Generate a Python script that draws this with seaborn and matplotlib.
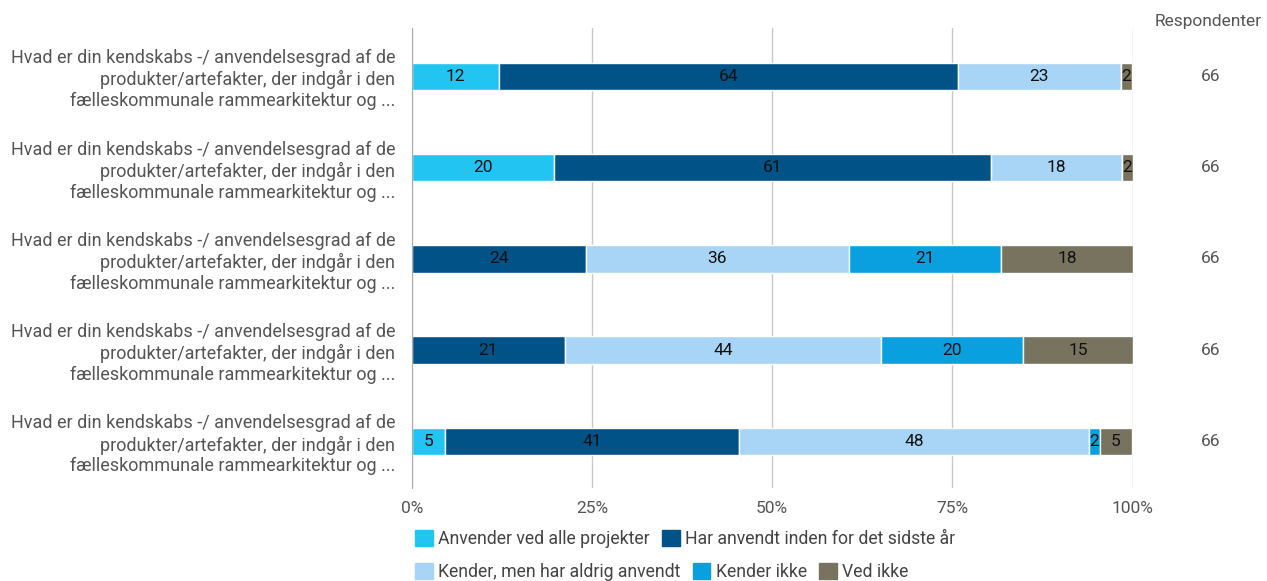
import numpy as np
import pandas as pd
import matplotlib.pyplot as plt
import seaborn as sns
from matplotlib.patches import Patch

sns.set_style('white')
plt.rcParams['font.family'] = ['Roboto', 'DejaVu Sans']

# Data (percent of respondents per answer)
question = ("Hvad er din kendskabs -/ anvendelsesgrad af de\n"
            "produkter/artefakter, der indgår i den\n"
            "fælleskommunale rammearkitektur og ...")
questions = [question] * 5
answers = ["Anvender ved alle projekter", "Har anvendt inden for det sidste år",
           "Kender, men har aldrig anvendt", "Kender ikke", "Ved ikke"]
anvender = [12.1, 19.7, 0, 0, 4.55]
har_anvendt = [63.6, 60.6, 24.2, 21.2, 40.9]
kender_men = [22.7, 18.2, 36.4, 43.9, 48.45]
kender_ikke = [0, 0, 21.2, 19.7, 1.5]
ved_ikke = [1.5, 1.5, 18.2, 15.2, 4.55]
respondenter = [66, 66, 66, 66, 66]

colors = ["#22c4f2", "#005287", "#a8d5f5", "#0aa0e0", "#77735e"]

df = pd.DataFrame({answers[0]: anvender, answers[1]: har_anvendt,
                   answers[2]: kender_men, answers[3]: kender_ikke,
                   answers[4]: ved_ikke})
df['row'] = range(len(df))

fig = plt.figure(figsize=(12.67, 5.81), dpi=100)
ax = fig.add_axes([0.325, 0.160, 0.569, 0.792])

left = np.zeros(len(df))
for ans, col in zip(answers, colors):
    sns.barplot(x=df[ans], y=df['row'], left=left, color=col, orient='h',
                width=0.3, ax=ax, native_scale=True, saturation=1)
    for i, (v, l) in enumerate(zip(df[ans], left)):
        if v > 0:
            ax.text(l + v / 2, i, f"{int(v + 0.5)}", ha='center', va='center',
                    fontsize=12.5, color='#111111')
    left = left + df[ans].values

ax.set_xlim(0, 100)
ax.set_ylim(4.51, -0.53)
ax.set_xticks([0, 25, 50, 75, 100])
ax.set_xticklabels(["0%", "25%", "50%", "75%", "100%"], fontsize=12.5, color='#555555')
ax.set_yticks(range(5))
ax.set_yticklabels(questions, fontsize=13, color='#555555')
ax.set_xlabel('')
ax.set_ylabel('')
ax.grid(axis='x', color='#c8c8c8', lw=1)
ax.set_axisbelow(True)
for s in ['top', 'right', 'bottom']:
    ax.spines[s].set_visible(False)
ax.spines['left'].set_color('#aaaaaa')
ax.tick_params(axis='x', length=5, color='#c8c8c8', pad=4)
ax.tick_params(axis='y', length=0, pad=12)

# Respondenter column
fig.text(0.9115, 0.963, "Respondenter", fontsize=12.5, color='#555555', ha='left', va='center')
for i, n in enumerate(respondenter):
    ax.text(1.108, i, str(n), transform=ax.get_yaxis_transform(), ha='center',
            va='center', fontsize=12.5, color='#555555')

# Legend in two rows
handles = [Patch(facecolor=c, edgecolor=c, label=a) for a, c in zip(answers, colors)]
leg_kw = dict(frameon=False, fontsize=12.7, handlelength=1.0, handleheight=1.0,
              handletextpad=0.3, columnspacing=0.7, borderaxespad=0, labelcolor='#444444')
leg1 = fig.legend(handles=handles[:2], ncol=2, loc='center left',
                  bbox_to_anchor=(0.322, 0.072), **leg_kw)
leg2 = fig.legend(handles=handles[2:], ncol=3, loc='center left',
                  bbox_to_anchor=(0.322, 0.015), **leg_kw)

fig.savefig('out.png', dpi=100)
